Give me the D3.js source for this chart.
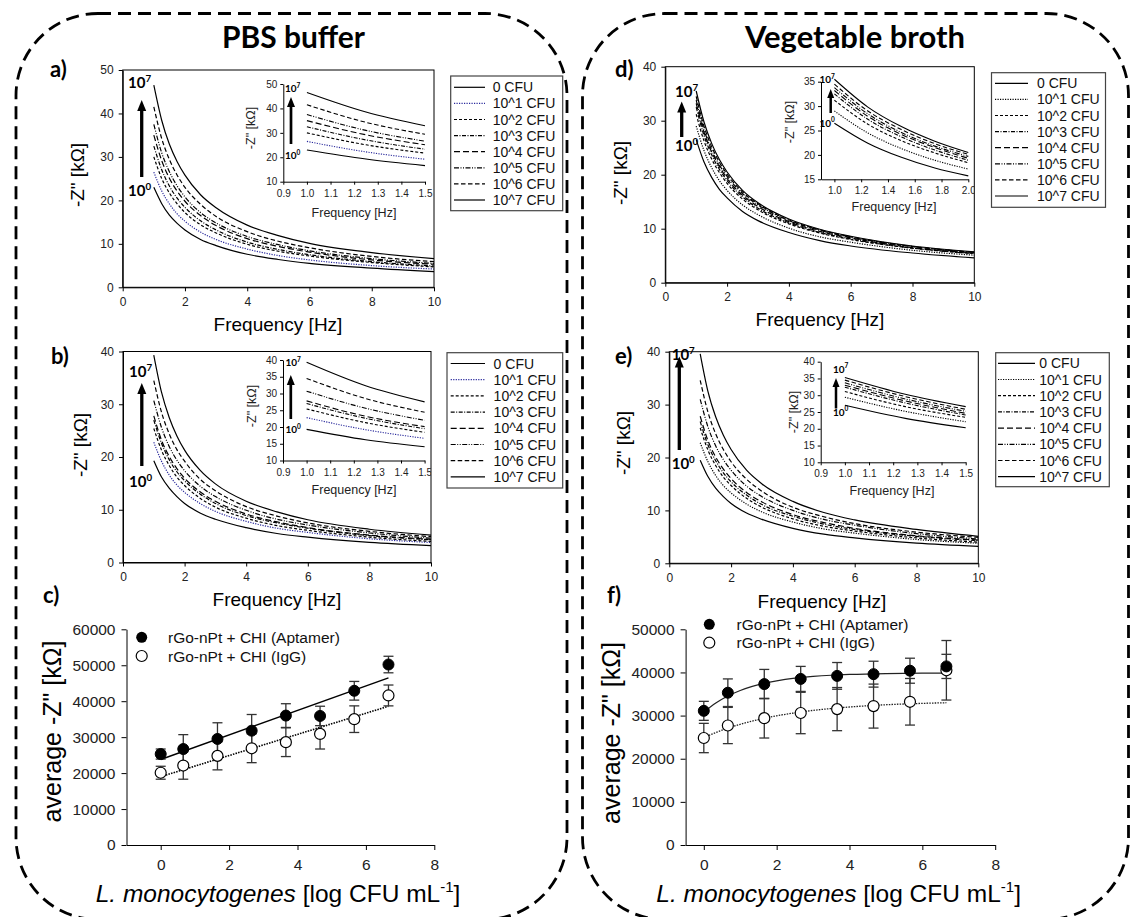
<!DOCTYPE html>
<html><head><meta charset="utf-8">
<script src="https://cdn.jsdelivr.net/npm/d3@7"></script>
<style>body{margin:0;background:#fff}svg{display:block}</style>
</head><body>
<svg id="chart" width="1131" height="917"></svg>
<script>
// ---------------- DATA ----------------
const freqs = [1, 1.25, 1.5, 1.75, 2, 2.5, 3, 4, 5, 6, 8, 10];
const cfuLabels = ["0 CFU", "10^1 CFU", "10^2 CFU", "10^3 CFU", "10^4 CFU", "10^5 CFU", "10^6 CFU", "10^7 CFU"];
const mainXTicks = [0, 2, 4, 6, 8, 10];
const yTicks50 = [0, 10, 20, 30, 40, 50];
const yTicks40 = [0, 10, 20, 30, 40];
const insetXTicks15 = [0.9, 1.0, 1.1, 1.2, 1.3, 1.4, 1.5];
const insetXTicks20 = [1.0, 1.2, 1.4, 1.6, 1.8, 2.0];
const insetYTicksA = [10, 20, 30, 40, 50];
const insetYTicks40 = [10, 15, 20, 25, 30, 35, 40];
const insetYTicksD = [15, 20, 25, 30, 35];

// a) PBS buffer, Aptamer: -Z'' [kOhm] per concentration at freqs
const aZ0 = [23.0, 19.3, 16.6, 14.7, 13.2, 11.0, 9.6, 7.6, 6.4, 5.5, 4.4, 3.6];
const aZ1 = [26.5, 22.2, 19.2, 16.9, 15.2, 12.7, 11.0, 8.8, 7.3, 6.3, 5.0, 4.2];
const aZ2 = [30.0, 25.1, 21.7, 19.2, 17.2, 14.4, 12.5, 9.9, 8.3, 7.2, 5.7, 4.7];
const aZ3 = [32.5, 27.1, 23.3, 20.5, 18.4, 15.3, 13.2, 10.4, 8.7, 7.5, 5.9, 4.9];
const aZ4 = [35.0, 29.2, 25.1, 22.1, 19.8, 16.5, 14.2, 11.2, 9.4, 8.1, 6.3, 5.3];
const aZ5 = [37.5, 31.0, 26.6, 23.3, 20.8, 17.2, 14.8, 11.7, 9.8, 8.4, 6.6, 5.5];
const aZ6 = [41.5, 34.3, 29.4, 25.8, 23.0, 19.1, 16.3, 12.8, 10.6, 9.1, 7.1, 5.9];
const aZ7 = [46.5, 38.5, 32.9, 28.9, 25.8, 21.3, 18.3, 14.3, 11.9, 10.1, 8.0, 6.6];

// b) PBS buffer, IgG
const bZ0 = [19.3, 16.2, 14.1, 12.5, 11.2, 9.4, 8.2, 6.6, 5.5, 4.8, 3.8, 3.2];
const bZ1 = [22.8, 19.2, 16.6, 14.7, 13.3, 11.2, 9.7, 7.8, 6.5, 5.7, 4.5, 3.8];
const bZ2 = [25.4, 21.3, 18.4, 16.2, 14.6, 12.2, 10.5, 8.4, 7.0, 6.1, 4.8, 4.0];
const bZ3 = [27.0, 22.6, 19.5, 17.2, 15.5, 13.0, 11.2, 8.9, 7.5, 6.5, 5.1, 4.3];
const bZ4 = [27.8, 23.2, 20.1, 17.8, 16.0, 13.4, 11.6, 9.2, 7.7, 6.6, 5.2, 4.4];
const bZ5 = [30.7, 25.6, 22.0, 19.4, 17.4, 14.5, 12.5, 9.9, 8.2, 7.1, 5.6, 4.6];
const bZ6 = [34.5, 28.5, 24.4, 21.4, 19.2, 15.8, 13.6, 10.6, 8.8, 7.5, 5.9, 4.9];
const bZ7 = [39.3, 32.3, 27.5, 24.0, 21.3, 17.5, 14.9, 11.6, 9.6, 8.1, 6.3, 5.2];

// d) Vegetable broth, Aptamer
const dZ0 = [26.5, 22.4, 19.5, 17.3, 15.7, 13.2, 11.5, 9.3, 7.8, 6.8, 5.5, 4.6];
const dZ1 = [29.0, 24.5, 21.3, 18.9, 17.1, 14.4, 12.6, 10.1, 8.5, 7.5, 6.0, 5.1];
const dZ2 = [31.2, 26.3, 22.9, 20.4, 18.4, 15.5, 13.5, 10.9, 9.2, 8.0, 6.4, 5.4];
const dZ3 = [32.5, 27.3, 23.7, 21.0, 18.9, 15.9, 13.8, 11.1, 9.3, 8.1, 6.4, 5.4];
const dZ4 = [33.2, 27.9, 24.2, 21.5, 19.3, 16.2, 14.1, 11.3, 9.5, 8.3, 6.5, 5.5];
const dZ5 = [33.8, 28.4, 24.6, 21.8, 19.7, 16.5, 14.4, 11.5, 9.7, 8.4, 6.7, 5.6];
const dZ6 = [34.5, 29.0, 25.2, 22.3, 20.1, 16.8, 14.6, 11.6, 9.8, 8.5, 6.7, 5.6];
const dZ7 = [35.5, 29.8, 25.8, 22.8, 20.5, 17.1, 14.8, 11.8, 9.9, 8.6, 6.8, 5.7];

// e) Vegetable broth, IgG (main plot)
const eZ0 = [19.5, 16.4, 14.2, 12.6, 11.3, 9.5, 8.3, 6.6, 5.5, 4.8, 3.8, 3.2];
const eZ1 = [22.8, 19.2, 16.6, 14.7, 13.3, 11.2, 9.7, 7.8, 6.5, 5.7, 4.5, 3.8];
const eZ2 = [25.6, 21.4, 18.5, 16.3, 14.7, 12.3, 10.6, 8.4, 7.0, 6.1, 4.8, 4.0];
const eZ3 = [26.8, 22.4, 19.4, 17.1, 15.4, 12.9, 11.1, 8.9, 7.4, 6.4, 5.1, 4.3];
const eZ4 = [27.8, 23.2, 20.1, 17.8, 16.0, 13.4, 11.6, 9.2, 7.7, 6.6, 5.2, 4.4];
const eZ5 = [31.0, 25.8, 22.2, 19.6, 17.6, 14.6, 12.6, 10.0, 8.3, 7.2, 5.6, 4.6];
const eZ6 = [34.6, 28.6, 24.5, 21.5, 19.2, 15.9, 13.6, 10.6, 8.8, 7.5, 5.9, 4.9];
const eZ7 = [39.6, 32.5, 27.7, 24.2, 21.5, 17.6, 15.0, 11.7, 9.6, 8.2, 6.4, 5.1];

// e) inset (separate data set)
const eInsetFreqs = [1, 1.25, 1.5];
const eI0 = [27.0, 23.1, 20.3];
const eI1 = [29.4, 25.2, 22.1];
const eI2 = [31.1, 26.6, 23.4];
const eI3 = [32.4, 27.7, 24.1];
const eI4 = [33.0, 28.3, 24.6];
const eI5 = [33.7, 28.9, 25.2];
const eI6 = [34.5, 29.6, 25.8];
const eI7 = [35.3, 30.3, 26.6];

// c) / f) calibration
const logCfu = [0, 0.66, 1.66, 2.66, 3.66, 4.66, 5.66, 6.66];
const calXTicks = [0, 2, 4, 6, 8];
const cYTicks = [0, 10000, 20000, 30000, 40000, 50000, 60000];
const fYTicks = [0, 10000, 20000, 30000, 40000, 50000];
const seriesNames = ["rGo-nPt + CHI (Aptamer)", "rGo-nPt + CHI (IgG)"];

const cApt = [25300, 26700, 29500, 31800, 36000, 35900, 42900, 50200];
const cAptErr = [1400, 4000, 4500, 4500, 3300, 2700, 2600, 2300];
const cIgg = [20100, 22100, 24800, 26900, 28600, 30900, 35000, 41600];
const cIggErr = [1800, 3800, 3900, 4000, 4000, 4200, 3700, 2900];
const cFitX = [0, 6.66];
const cAptFit = [23800, 46500];
const cIggFit = [19000, 38600];

const fApt = [31100, 35300, 37300, 38500, 39200, 39600, 40400, 41400];
const fAptErr = [2200, 3200, 3400, 2900, 3100, 3000, 2900, 2800];
const fIgg = [24800, 27700, 29400, 30600, 31500, 32200, 33200, 40500];
const fIggErr = [3400, 4200, 4600, 4800, 5000, 5100, 5400, 6900];
const fFitX = [0, 0.33, 0.66, 1, 1.33, 1.66, 2, 2.5, 3, 3.5, 4, 5, 6, 6.66];
const fAptFit = [30800, 32910, 34530, 35810, 36760, 37490, 38060, 38670, 39070, 39350, 39530, 39740, 39830, 39850];
const fIggFit = [24900, 26070, 27080, 27980, 28730, 29370, 29940, 30640, 31200, 31640, 31990, 32510, 32830, 32980];

// ---------------- DRAWING ----------------
const SANS = "'Liberation Sans', Arial, sans-serif";
const BOLD = "Lato, 'Open Sans', sans-serif";
const svg = d3.select("#chart");
svg.append("rect").attr("width", 1131).attr("height", 917).attr("fill", "#fff");
const defs = svg.append("defs");

const dashes = [null, "1.2,1.3", "3,2", "4,1.5,1,1.5", "6,3", "5,1.5,1,1.5,1,1.5", "4.5,2.5", null];
function seriesColor(blue, i) { return (blue && i === 1) ? "#2a2a9c" : "#000"; }

// dashed rounded frames
[[16, 13.5, 551, 906], [582.5, 13.5, 546, 906]].forEach(([x, y, w, h]) => {
  svg.append("rect").attr("x", x).attr("y", y).attr("width", w).attr("height", h)
    .attr("rx", 82).attr("ry", 82).attr("fill", "none").attr("stroke", "#000")
    .attr("stroke-width", 2.8).attr("stroke-dasharray", "13,7");
});

function fitText(t, target) {
  const w = t.node().getComputedTextLength();
  const fs = parseFloat(t.attr("font-size"));
  t.attr("font-size", fs * target / w);
}
fitText(svg.append("text").attr("x", 293.5).attr("y", 48).attr("text-anchor", "middle")
  .attr("font-family", BOLD).attr("font-weight", "bold").attr("font-size", 30).text("PBS buffer"), 143);
fitText(svg.append("text").attr("x", 855).attr("y", 48).attr("text-anchor", "middle")
  .attr("font-family", BOLD).attr("font-weight", "bold").attr("font-size", 30).text("Vegetable broth"), 220);

function panelLabel(x, y, s) {
  svg.append("text").attr("x", x).attr("y", y).attr("font-family", BOLD).attr("font-weight", "bold")
    .attr("font-size", 22).attr("fill", "#000").text(s);
}

function styleAxis(ax, size) {
  ax.select(".domain").attr("stroke", "#000").attr("stroke-width", 1);
  ax.selectAll(".tick line").attr("stroke", "#000");
  ax.selectAll(".tick text").attr("font-family", SANS).attr("font-size", size).attr("fill", "#222");
}

function arrow(g, x, yTail, yTip, sw, hw, hh) {
  g.append("line").attr("x1", x).attr("x2", x).attr("y1", yTail).attr("y2", yTip + hh - 1)
    .attr("stroke", "#000").attr("stroke-width", sw);
  g.append("path").attr("d", `M${x - hw / 2},${yTip + hh}L${x + hw / 2},${yTip + hh}L${x},${yTip}Z`).attr("fill", "#000");
}

function pow10(g, x, y, e, size) {
  const t = g.append("text").attr("x", x).attr("y", y).attr("font-family", BOLD)
    .attr("font-weight", "bold").attr("font-size", size).attr("fill", "#000");
  t.append("tspan").text("10");
  t.append("tspan").attr("dy", -size * 0.42).attr("font-size", size * 0.65).text(e);
}

function freqPanel(o) {
  const g = svg.append("g");
  const x = d3.scaleLinear().domain([0, 10]).range([o.x0, o.x1]);
  const y = d3.scaleLinear().domain([0, o.yMax]).range([o.y1, o.y0]);
  const cid = "clip-" + o.id;
  defs.append("clipPath").attr("id", cid).append("rect")
    .attr("x", o.x0).attr("y", o.y0).attr("width", o.x1 - o.x0).attr("height", o.y1 - o.y0);

  const ax = g.append("g").attr("transform", `translate(0,${o.y1})`)
    .call(d3.axisBottom(x).tickValues(mainXTicks).tickSize(4).tickSizeOuter(0).tickPadding(6).tickFormat(d3.format("d")));
  styleAxis(ax, 12);
  const ay = g.append("g").attr("transform", `translate(${o.x0},0)`)
    .call(d3.axisLeft(y).tickValues(o.yTicks).tickSize(4).tickSizeOuter(0).tickPadding(5).tickFormat(d3.format("d")));
  styleAxis(ay, 12);

  const line = d3.line().x(d => x(d[0])).y(d => y(d[1])).curve(d3.curveMonotoneX);
  const pg = g.append("g").attr("clip-path", `url(#${cid})`);
  o.data.forEach((s, i) => {
    pg.append("path").datum(freqs.map((f, j) => [f, s[j]])).attr("d", line)
      .attr("fill", "none").attr("stroke", seriesColor(o.blue, i)).attr("stroke-width", 1.2)
      .attr("stroke-dasharray", dashes[i]);
  });
  g.append("rect").attr("x", o.x0).attr("y", o.y0).attr("width", o.x1 - o.x0).attr("height", o.y1 - o.y0)
    .attr("fill", "none").attr("stroke", "#000").attr("stroke-width", 1);

  arrow(g, o.arrow.x, o.arrow.tail, o.arrow.tip, 3.3, 9, 11);
  pow10(g, o.p7.x, o.p7.y, "7", 15);
  pow10(g, o.p0.x, o.p0.y, "0", 15);

  g.append("text").attr("x", o.xlab.x).attr("y", o.xlab.y).attr("text-anchor", "middle")
    .attr("font-family", SANS).attr("font-size", 19).attr("fill", "#000").text("Frequency [Hz]");
  g.append("text").attr("transform", `translate(${o.ylab.x},${o.ylab.y}) rotate(-90)`).attr("text-anchor", "middle")
    .attr("font-family", SANS).attr("font-size", 19).attr("fill", "#000").text('-Z" [kΩ]');

  // inset
  const n = o.inset;
  const ig = g.append("g").attr("clip-path", `url(#${cid})`);
  const ix = d3.scaleLinear().domain(n.xd).range([n.x0, n.x1]);
  const iy = d3.scaleLinear().domain(n.yd).range([n.y1, n.y0]);
  const iax = ig.append("g").attr("transform", `translate(0,${n.y1})`)
    .call(d3.axisBottom(ix).tickValues(n.xTicks).tickSize(3).tickSizeOuter(0).tickPadding(5).tickFormat(d3.format(".1f")));
  styleAxis(iax, 10);
  const iay = ig.append("g").attr("transform", `translate(${n.x0},0)`)
    .call(d3.axisLeft(iy).tickValues(n.yTicks).tickSize(3).tickSizeOuter(0).tickPadding(3).tickFormat(d3.format("d")));
  styleAxis(iay, 10);
  const iline = d3.line().x(d => ix(d[0])).y(d => iy(d[1])).curve(d3.curveMonotoneX);
  n.data.forEach((s, i) => {
    const pts = n.freqs.map((f, j) => [f, s[j]]).filter(d => d[0] <= n.xd[1] + 1e-9);
    ig.append("path").datum(pts).attr("d", iline).attr("fill", "none")
      .attr("stroke", seriesColor(o.blue, i)).attr("stroke-width", 1.1).attr("stroke-dasharray", dashes[i]);
  });
  arrow(ig, n.arrow.x, n.arrow.tail, n.arrow.tip, n.arrow.sw, n.arrow.hw, n.arrow.hh);
  pow10(ig, n.p7.x, n.p7.y, "7", n.psize);
  pow10(ig, n.p0.x, n.p0.y, "0", n.psize);
  ig.append("text").attr("x", n.xlab.x).attr("y", n.xlab.y).attr("text-anchor", "middle")
    .attr("font-family", SANS).attr("font-size", 12.5).attr("fill", "#222").text("Frequency [Hz]");
  ig.append("text").attr("transform", `translate(${n.ylab.x},${n.ylab.y}) rotate(-90)`).attr("text-anchor", "middle")
    .attr("font-family", SANS).attr("font-size", 12.5).attr("fill", "#222").text('-Z" [kΩ]');

  // legend
  const L = o.legend;
  g.append("rect").attr("x", L.x0).attr("y", L.y0).attr("width", L.x1 - L.x0).attr("height", L.y1 - L.y0)
    .attr("fill", "#fff").attr("stroke", "#444").attr("stroke-width", 1.2);
  cfuLabels.forEach((lab, i) => {
    const yy = L.row0 + i * L.step;
    g.append("line").attr("x1", L.s0).attr("x2", L.s1).attr("y1", yy).attr("y2", yy)
      .attr("stroke", seriesColor(o.blue, i)).attr("stroke-width", 1.2).attr("stroke-dasharray", dashes[i]);
    g.append("text").attr("x", L.tx).attr("y", yy + 5).attr("font-family", SANS).attr("font-size", 14)
      .attr("fill", "#111").text(lab);
  });
}

freqPanel({
  id: "a", x0: 122.7, x1: 434, y0: 70, y1: 287.3, yMax: 50, yTicks: yTicks50, blue: true,
  data: [aZ0, aZ1, aZ2, aZ3, aZ4, aZ5, aZ6, aZ7],
  arrow: { x: 141.7, tail: 177, tip: 100 }, p7: { x: 128, y: 88 }, p0: { x: 128, y: 196 },
  xlab: { x: 278, y: 331 }, ylab: { x: 84, y: 175 },
  inset: {
    x0: 283.3, x1: 425, y0: 84, y1: 181.7, xd: [0.9, 1.5], yd: [10, 50],
    xTicks: insetXTicks15, yTicks: insetYTicksA, freqs: freqs,
    data: [aZ0, aZ1, aZ2, aZ3, aZ4, aZ5, aZ6, aZ7],
    arrow: { x: 291, tail: 144, tip: 97, sw: 2.7, hw: 8, hh: 10 }, psize: 10,
    p7: { x: 285, y: 92 }, p0: { x: 285, y: 159 },
    xlab: { x: 354, y: 216.5 }, ylab: { x: 254.5, y: 128 }
  },
  legend: { x0: 450.7, x1: 562.7, y0: 76, y1: 210.7, row0: 87.3, step: 16.1, s0: 454, s1: 485, tx: 492.7 }
});
freqPanel({
  id: "b", x0: 123, x1: 431, y0: 351.5, y1: 562.5, yMax: 40, yTicks: yTicks40, blue: true,
  data: [bZ0, bZ1, bZ2, bZ3, bZ4, bZ5, bZ6, bZ7],
  arrow: { x: 141.8, tail: 466, tip: 383 }, p7: { x: 129, y: 377 }, p0: { x: 129, y: 487 },
  xlab: { x: 277, y: 606 }, ylab: { x: 87, y: 445 },
  inset: {
    x0: 283, x1: 424.6, y0: 360, y1: 460.5, xd: [0.9, 1.5], yd: [10, 40],
    xTicks: insetXTicks15, yTicks: insetYTicks40, freqs: freqs,
    data: [bZ0, bZ1, bZ2, bZ3, bZ4, bZ5, bZ6, bZ7],
    arrow: { x: 290.8, tail: 419, tip: 375, sw: 2.7, hw: 8, hh: 10 }, psize: 10,
    p7: { x: 285.5, y: 366 }, p0: { x: 285.5, y: 433 },
    xlab: { x: 354, y: 494 }, ylab: { x: 255.5, y: 406 }
  },
  legend: { x0: 447, x1: 562.7, y0: 352.7, y1: 488, row0: 363.5, step: 16.2, s0: 450.7, s1: 485, tx: 493.6 }
});
freqPanel({
  id: "d", x0: 665.3, x1: 974.3, y0: 66.7, y1: 282.7, yMax: 40, yTicks: yTicks40, blue: false,
  data: [dZ0, dZ1, dZ2, dZ3, dZ4, dZ5, dZ6, dZ7],
  arrow: { x: 681.7, tail: 137, tip: 101.5 }, p7: { x: 675, y: 97 }, p0: { x: 675, y: 151 },
  xlab: { x: 820, y: 326 }, ylab: { x: 626.5, y: 173 },
  inset: {
    x0: 821, x1: 968.3, y0: 81.7, y1: 179.3, xd: [0.9, 2.0], yd: [15, 35],
    xTicks: insetXTicks20, yTicks: insetYTicksD, freqs: freqs,
    data: [dZ0, dZ1, dZ2, dZ3, dZ4, dZ5, dZ6, dZ7],
    arrow: { x: 830.7, tail: 113, tip: 89, sw: 2.5, hw: 7, hh: 9 }, psize: 10,
    p7: { x: 819.5, y: 83 }, p0: { x: 819.5, y: 126.5 },
    xlab: { x: 894, y: 211 }, ylab: { x: 793.5, y: 122 }
  },
  legend: { x0: 991.5, x1: 1105.5, y0: 72.7, y1: 207.3, row0: 83.3, step: 16.1, s0: 995, s1: 1028, tx: 1037 }
});
freqPanel({
  id: "e", x0: 669.3, x1: 978.3, y0: 351.7, y1: 563.3, yMax: 40, yTicks: yTicks40, blue: false,
  data: [eZ0, eZ1, eZ2, eZ3, eZ4, eZ5, eZ6, eZ7],
  arrow: { x: 679.3, tail: 450, tip: 356.5 }, p7: { x: 671.7, y: 360 }, p0: { x: 671.7, y: 469 },
  xlab: { x: 822, y: 608 }, ylab: { x: 630, y: 443 },
  inset: {
    x0: 820.7, x1: 965.7, y0: 361.7, y1: 462.3, xd: [0.9, 1.5], yd: [10, 40],
    xTicks: insetXTicks15, yTicks: insetYTicks40, freqs: eInsetFreqs,
    data: [eI0, eI1, eI2, eI3, eI4, eI5, eI6, eI7],
    arrow: { x: 836, tail: 408.5, tip: 378, sw: 2.5, hw: 7, hh: 9 }, psize: 10,
    p7: { x: 833, y: 372.5 }, p0: { x: 833, y: 415.5 },
    xlab: { x: 892, y: 494.5 }, ylab: { x: 797.5, y: 412 }
  },
  legend: { x0: 995.7, x1: 1109.3, y0: 352.7, y1: 486.7, row0: 363.3, step: 16.2, s0: 998, s1: 1035, tx: 1039.3 }
});

function calPanel(o) {
  const g = svg.append("g");
  const x = d3.scaleLinear().domain(o.xd).range([o.x0, o.x1]);
  const y = d3.scaleLinear().domain([0, o.yMax]).range([o.y1, o.y0]);
  const ax = g.append("g").attr("transform", `translate(0,${o.y1})`)
    .call(d3.axisBottom(x).tickValues(calXTicks).tickSize(5).tickSizeOuter(0).tickPadding(9).tickFormat(d3.format("d")));
  styleAxis(ax, 15.5);
  const ay = g.append("g").attr("transform", `translate(${o.x0},0)`)
    .call(d3.axisLeft(y).tickValues(o.yTicks).tickSize(5).tickSizeOuter(0).tickPadding(6).tickFormat(d3.format("d")));
  styleAxis(ay, 15.5);

  const line = d3.line().x(d => x(d[0])).y(d => y(d[1])).curve(d3.curveMonotoneX);
  g.append("path").datum(o.fitX.map((v, i) => [v, o.aptFit[i]])).attr("d", line)
    .attr("fill", "none").attr("stroke", o.fitColor).attr("stroke-width", o.fitWidth);
  g.append("path").datum(o.fitX.map((v, i) => [v, o.iggFit[i]])).attr("d", line)
    .attr("fill", "none").attr("stroke", o.fitColor).attr("stroke-width", o.fitWidth + 0.1).attr("stroke-dasharray", "1.5,1.2");

  function errBars(vals, errs) {
    logCfu.forEach((lx, i) => {
      const cx = x(lx), yt = y(vals[i] + errs[i]), yb = y(vals[i] - errs[i]);
      g.append("line").attr("x1", cx).attr("x2", cx).attr("y1", yt).attr("y2", yb).attr("stroke", "#333").attr("stroke-width", 1.3);
      [yt, yb].forEach(yy => g.append("line").attr("x1", cx - 5).attr("x2", cx + 5).attr("y1", yy).attr("y2", yy)
        .attr("stroke", "#333").attr("stroke-width", 1.3));
    });
  }
  errBars(o.igg, o.iggErr);
  errBars(o.apt, o.aptErr);
  logCfu.forEach((lx, i) => g.append("circle").attr("cx", x(lx)).attr("cy", y(o.igg[i])).attr("r", 5.5)
    .attr("fill", "#fff").attr("stroke", "#000").attr("stroke-width", 1.2));
  logCfu.forEach((lx, i) => g.append("circle").attr("cx", x(lx)).attr("cy", y(o.apt[i])).attr("r", 5.5)
    .attr("fill", "#000").attr("stroke", "#000").attr("stroke-width", 1));

  // legend
  const L = o.legend;
  g.append("circle").attr("cx", L.cx).attr("cy", L.y1).attr("r", 5.5).attr("fill", "#000");
  g.append("circle").attr("cx", L.cx).attr("cy", L.y2).attr("r", 5.5).attr("fill", "#fff").attr("stroke", "#000").attr("stroke-width", 1.2);
  [L.y1, L.y2].forEach((yy, i) => g.append("text").attr("x", L.tx).attr("y", yy + 5.5)
    .attr("font-family", SANS).attr("font-size", 15.5).attr("fill", "#111").text(seriesNames[i]));

  // axis titles
  g.append("text").attr("transform", `translate(${o.ylab.x},${o.ylab.y}) rotate(-90)`).attr("text-anchor", "middle")
    .attr("font-family", SANS).attr("font-size", 25).attr("fill", "#000").text('average -Z" [kΩ]');
  const t = g.append("text").attr("x", o.xlab.x).attr("y", o.xlab.y).attr("text-anchor", "middle")
    .attr("font-family", SANS).attr("font-size", 24.5).attr("fill", "#000");
  t.append("tspan").attr("font-style", "italic").text("L. monocytogenes");
  t.append("tspan").text(" [log CFU mL");
  t.append("tspan").attr("dy", -10).attr("font-size", 15).text("-1");
  t.append("tspan").attr("dy", 10).text("]");
}

calPanel({
  x0: 126.5, x1: 434.3, y0: 629.3, y1: 845, xd: [-1, 8], yMax: 60000, yTicks: cYTicks,
  apt: cApt, aptErr: cAptErr, igg: cIgg, iggErr: cIggErr,
  fitX: cFitX, aptFit: cAptFit, iggFit: cIggFit, fitColor: "#000", fitWidth: 1.5,
  legend: { cx: 141.7, y1: 637.3, y2: 656, tx: 168 },
  ylab: { x: 61, y: 731.5 }, xlab: { x: 278, y: 902 }
});
calPanel({
  x0: 685.6, x1: 995.2, y0: 629.3, y1: 845, xd: [-0.5, 8], yMax: 50000, yTicks: fYTicks,
  apt: fApt, aptErr: fAptErr, igg: fIgg, iggErr: fIggErr,
  fitX: fFitX, aptFit: fAptFit, iggFit: fIggFit, fitColor: "#222", fitWidth: 1.2,
  legend: { cx: 709.3, y1: 624.3, y2: 642.7, tx: 736.6 },
  ylab: { x: 620, y: 733 }, xlab: { x: 838.6, y: 902 }
});

panelLabel(50, 77, "a)");
panelLabel(51, 364, "b)");
panelLabel(43, 603, "c)");
panelLabel(615, 77, "d)");
panelLabel(615, 364, "e)");
panelLabel(607, 603, "f)");
</script>
</body></html>
